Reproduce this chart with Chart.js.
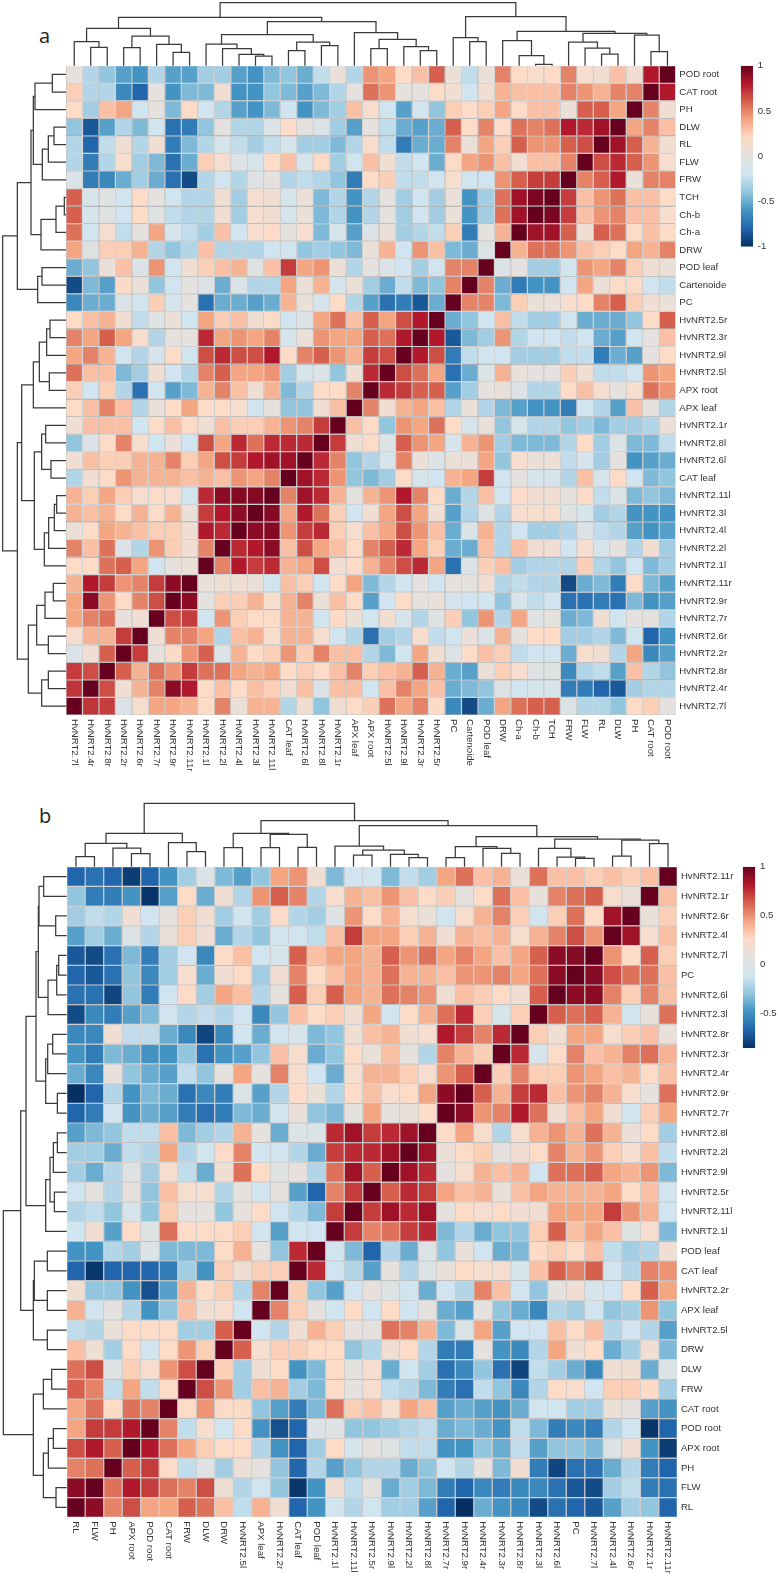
<!DOCTYPE html>
<html>
<head>
<meta charset="utf-8">
<script src="https://cdn.jsdelivr.net/npm/chart.js@4"></script>
<style>
html,body{margin:0;padding:0;background:#fff}
#page{position:relative;width:778px;height:1577px;overflow:hidden;background:#fff}
canvas{position:absolute;display:block}
.tag{position:absolute;font-family:"Open Sans",sans-serif;font-size:20px;line-height:24px;color:#222}
</style>
</head>
<body>
<div id="page">
<div class="tag" style="left:39px;top:24px">a</div>
<div class="tag" style="left:39px;top:804px">b</div>
</div>
<script>
// ---------- Palette (low to high) ----------
const palette = ['#053061','#2166ac','#4393c3','#92c5de','#d1e5f0','#e4e1de','#fddbc7','#f4a582','#d6604d','#b2182b','#67001f'];

// ---------- Panel a ----------
const aColumns = ['HvNRT2.7l','HvNRT2.4r','HvNRT2.8r','HvNRT2.2r','HvNRT2.6r','HvNRT2.7r','HvNRT2.9r','HvNRT2.11r','HvNRT2.1l','HvNRT2.2l','HvNRT2.4l','HvNRT2.3l','HvNRT2.11l','CAT leaf','HvNRT2.6l','HvNRT2.8l','HvNRT2.1r','APX leaf','APX root','HvNRT2.5l','HvNRT2.9l','HvNRT2.3r','HvNRT2.5r','PC','Cartenoide','POD leaf','DRW','Ch-a','Ch-b','TCH','FRW','FLW','RL','DLW','PH','CAT root','POD root'];
const aRowNames = ['POD root','CAT root','PH','DLW','RL','FLW','FRW','TCH','Ch-b','Ch-a','DRW','POD leaf','Cartenoide','PC','HvNRT2.5r','HvNRT2.3r','HvNRT2.9l','HvNRT2.5l','APX root','APX leaf','HvNRT2.1r','HvNRT2.8l','HvNRT2.6l','CAT leaf','HvNRT2.11l','HvNRT2.3l','HvNRT2.4l','HvNRT2.2l','HvNRT2.1l','HvNRT2.11r','HvNRT2.9r','HvNRT2.7r','HvNRT2.6r','HvNRT2.2r','HvNRT2.8r','HvNRT2.4r','HvNRT2.7l'];
// Correlations, top-left triangle down to the diagonal; the rest is its mirror.
const aValues = [
[0,-.3,-.4,-.55,-.6,-.3,-.55,-.55,-.35,-.35,-.55,-.6,-.45,-.4,-.5,-.25,.05,-.3,.45,.4,.2,.3,.6,.05,-.25,.05,.5,.2,.15,.2,.5,.15,.1,.3,.1,.8,1],
[.25,-.3,-.3,-.65,-.8,0,-.6,-.45,-.45,.1,-.6,-.6,-.4,-.45,-.55,-.45,-.3,0,.55,.45,0,0,.2,.1,-.2,.1,.35,.3,.3,.3,.5,.45,.35,.5,.5,1],
[.2,-.35,.3,.4,-.2,0,-.45,.2,-.2,-.3,-.55,-.6,-.45,-.2,-.6,-.45,-.35,.3,.15,-.2,-.55,-.2,-.4,.25,.2,.25,.4,.2,.3,.3,.05,.6,.6,.4,1],
[-.4,-.85,-.55,-.3,-.45,-.2,-.75,-.7,-.4,0,-.3,-.3,-.1,.2,0,-.1,-.35,-.55,0,-.25,-.5,-.55,-.5,.6,.2,.5,.2,.55,.5,.55,.8,.75,.85,1],
[-.3,-.8,-.25,.1,-.3,.1,-.7,-.45,-.3,-.15,-.25,-.35,-.25,-.15,-.35,-.35,-.45,-.3,.15,-.25,-.7,-.5,-.5,.5,.05,.4,.25,.6,.45,.45,.6,.65,1],
[-.3,-.7,-.3,.15,-.35,-.45,-.75,-.5,.25,.15,-.1,-.15,.2,.3,-.15,.2,-.35,-.2,.3,.1,-.25,-.2,-.5,.2,.4,.45,.3,.1,.3,.3,.5,1],
[-.1,-.7,-.65,-.5,-.35,-.5,-.75,-.9,-.3,-.2,-.3,-.05,0,-.3,-.25,-.3,-.4,-.7,.2,.25,-.25,-.25,-.2,.15,-.2,-.2,.45,.6,.7,.7,1],
[.6,-.15,-.05,-.2,.2,0,-.2,-.3,-.3,.1,-.35,.15,.1,-.15,.05,-.45,-.3,-.6,-.3,0,-.35,-.2,-.35,.05,-.6,-.35,.55,.85,.95,1],
[.6,-.15,-.05,-.2,.2,-.05,-.25,-.3,-.3,.1,-.35,.15,.1,-.15,.05,-.45,-.3,-.6,-.3,0,-.35,-.2,-.35,.05,-.6,-.35,.55,.85,1],
[.55,-.2,.15,-.25,0,.4,-.15,-.25,-.35,.3,-.2,.15,.2,0,.15,-.45,-.15,-.55,-.1,.05,-.35,-.3,-.25,.25,-.7,0,.35,1],
[.4,-.05,.25,.25,.35,-.3,-.4,-.3,.3,-.3,-.3,-.3,-.2,-.2,-.4,-.35,-.4,-.45,.05,.35,-.2,.45,.3,-.45,-.5,-.1,1],
[-.5,-.4,.05,.3,-.1,.45,-.2,.1,.25,.3,.35,-.05,.3,.7,.4,.45,.05,-.3,0,-.1,-.2,-.35,-.2,.5,.5,1],
[-.9,-.45,-.55,.2,.05,-.4,-.2,0,-.1,-.5,-.1,-.3,-.3,.4,.05,.35,-.15,.05,-.35,-.5,-.25,-.45,-.4,.5,1],
[-.65,-.5,-.5,-.1,-.2,.25,-.15,0,-.75,-.5,-.5,-.55,-.5,.35,.05,-.15,.2,-.3,-.55,-.75,-.7,-.85,-.5,1],
[.2,.3,.35,.1,-.25,-.05,.05,-.2,.4,.25,.3,.1,.2,-.2,-.1,.4,.55,.3,.6,.4,.65,.8,1],
[.5,.4,.6,.4,.15,-.3,0,0,.75,.4,.45,.4,.5,-.15,.05,.45,.4,.4,.6,.55,.8,1],
[.4,.5,.35,-.2,-.3,-.15,.2,-.2,.65,.75,.65,.65,.8,.2,.5,.6,.45,.35,.7,.65,1],
[.55,.3,.3,-.45,-.35,.1,-.2,-.3,.5,.6,.4,.4,.45,-.35,-.15,-.1,-.4,.1,.75,1],
[.25,-.2,.25,-.3,-.75,-.2,-.55,-.45,.35,.5,.3,.1,.35,-.45,-.3,.2,.2,.5,1],
[.2,.3,.5,.3,-.3,.05,.2,.4,.2,.2,.15,-.2,0,-.4,-.4,.1,.3,1],
[.1,.3,.3,.3,-.2,.2,.3,.2,.1,.3,.25,.25,.35,.45,.5,.7,1],
[-.4,-.1,.2,.5,.15,-.2,.05,-.2,.65,.4,.75,.55,.75,.75,.75,1],
[.1,.3,.25,.25,.35,.35,.5,.25,.4,.65,.7,.8,.85,.85,1],
[-.3,.1,.2,.45,.35,.35,.35,.3,.35,.3,.45,.4,.5,1],
[.35,.25,.4,.25,.15,.2,.15,-.2,.75,.9,.92,.92,1],
[.35,.3,.35,.2,.35,.2,.35,.05,.7,.8,.9,1],
[.05,.2,.4,.35,.3,.25,.25,.1,.8,.75,1],
[.5,.3,.55,-.1,-.3,.45,.25,.1,.5,1],
[.2,.2,.55,.6,.4,-.2,0,.05,1],
[.35,.8,.7,.45,.5,.7,.9,1],
[.4,.9,.45,.2,.5,.65,1],
[.4,.5,.55,.03,.1,1],
[.15,.35,.35,.7,1],
[-.1,.1,.6,1],
[.7,.65,1],
[.72,1],
[1]
];
// Cluster trees: [merge height, left branch, right branch]; plain numbers are leaf positions.
const aTopTree = [189,
  [145,
    [112,[72,0,[55,1,2]],[89,[54,3,4],[64,5,[40,6,7]]]],
    [132,
      [93,[65,8,[51,9,[34,10,[29,11,12]]]],[71,[45,13,14],[60,15,16]]],
      [99,17,[79,[51,18,19],[57,20,[45,21,22]]]]]],
  [147,
    [84,23,[72,24,25]],
    [103,[75,26,[30,27,[4,28,29]]],[97,[71,30,[53,31,[35,32,33]]],[92,34,[42,35,36]]]]]];
const aLeftTree = [190,
  [146,
    [105,
      [98,[93,[41,0,1],2],[71,[53,[36,3,4],5],6]],
      [75,[30,[5,7,8],9],10]],
    [85,[72,11,12],13]],
  [146,
    [133,
      [98,[80,[58,[48,14,15],16],[50,17,18]],19],
      [95,[73,[61,20,21],[45,22,23]],[65,[52,[35,[28,24,25],26],27],28]]],
    [113,
      [88,[63,[38,29,30],31],[53,32,33]],
      [73,[53,34,35],36]]]];
const aLegendTicks = [-1,-.5,0,.5,1];

// ---------- Panel b ----------
const bColumns = ['RL','FLW','PH','APX root','POD root','CAT root','FRW','DLW','DRW','HvNRT2.5l','APX leaf','HvNRT2.2r','CAT leaf','POD leaf','HvNRT2.1l','HvNRT2.11l','HvNRT2.5r','HvNRT2.9l','HvNRT2.2l','HvNRT2.8l','HvNRT2.7r','HvNRT2.9r','HvNRT2.4r','HvNRT2.3r','HvNRT2.8r','HvNRT2.3l','HvNRT2.6l','PC','HvNRT2.7l','HvNRT2.4l','HvNRT2.6r','HvNRT2.1r','HvNRT2.11r'];
const bRowNames = ['HvNRT2.11r','HvNRT2.1r','HvNRT2.6r','HvNRT2.4l','HvNRT2.7l','PC','HvNRT2.6l','HvNRT2.3l','HvNRT2.8r','HvNRT2.3r','HvNRT2.4r','HvNRT2.9r','HvNRT2.7r','HvNRT2.8l','HvNRT2.2l','HvNRT2.9l','HvNRT2.5r','HvNRT2.11l','HvNRT2.1l','POD leaf','CAT leaf','HvNRT2.2r','APX leaf','HvNRT2.5l','DRW','DLW','FRW','CAT root','POD root','APX root','PH','FLW','RL'];
const bValues = [
[-.8,-.75,-.8,-.95,-.8,-.6,-.35,-.1,-.45,-.55,-.4,.4,.45,.1,-.45,-.2,-.2,-.45,-.25,-.35,.4,.55,.3,.35,.05,.55,.3,.3,.25,.3,.25,.3,1],
[-.4,-.7,-.7,-.6,-.98,-.55,.2,-.5,.1,-.3,.45,.6,.5,-.3,.15,.35,.3,.45,.3,.2,.25,0,.2,.55,.3,.03,.5,.55,.6,.15,.05,1],
[-.35,-.25,-.3,.1,-.2,0,.25,.1,-.35,-.2,-.35,.2,-.3,-.35,-.05,.45,.2,.35,.15,.05,-.2,.15,.35,.5,.25,-.2,.25,.55,.2,.85,1],
[-.55,-.35,-.5,-.1,-.3,.05,.25,.1,-.5,-.3,-.4,-.2,-.2,-.25,.3,.7,.4,.4,.25,.35,.1,.35,.3,.35,.15,.35,.5,.65,.45,1],
[-.85,-.9,-.75,-.45,-.7,-.35,-.2,-.65,.2,.3,-.2,-.15,.6,.3,.4,.4,.35,.6,.45,.55,.4,.5,.4,.3,.4,.6,.9,.92,1],
[-.8,-.85,-.75,-.4,-.65,-.35,.15,-.5,.1,.2,-.35,.1,.5,.2,.3,.4,.35,.55,.35,.35,.3,.45,.45,.5,.4,.55,.9,1],
[-.75,-.75,-.92,-.4,-.7,-.2,.2,-.35,.4,.3,-.3,0,.6,.25,.6,.4,.35,.55,.5,.45,.1,.3,.25,.2,.1,.6,1],
[-.9,-.65,-.7,-.55,-.45,-.2,-.3,-.25,-.3,-.2,-.65,-.4,.3,.2,.25,.1,.4,-.2,.2,.35,.55,.75,.25,-.15,.25,1],
[-.65,-.65,.1,-.25,-.25,-.5,-.65,-.92,-.65,-.2,-.5,-.2,-.15,-.45,-.4,.1,.3,.35,.1,.15,.8,.7,.5,.75,1],
[-.6,-.7,-.45,-.5,-.6,-.6,-.4,-.75,-.6,-.55,-.4,.3,.15,-.5,-.4,.2,.05,.3,0,-.3,.5,.35,.25,1],
[-.5,-.65,.03,-.4,-.5,-.55,-.25,-.4,0,.4,0,.5,.15,-.2,-.5,.15,.35,.35,.25,.15,.45,.6,1],
[-1,-.8,-.3,-.6,-.45,-.5,-.75,-.65,-.7,-.1,-.55,-.3,.2,.05,-.3,.2,.3,.15,.2,.4,.9,1],
[-.8,-.7,-.2,-.6,-.5,-.55,-.7,-.75,-.7,-.45,-.5,-.2,.05,-.4,-.45,0,.4,0,.05,.2,1],
[-.55,-.45,-.4,-.25,-.25,.3,-.45,-.35,-.3,.35,0,-.5,-.1,-.1,.75,.85,.7,.75,.85,1],
[-.35,-.35,-.5,-.25,-.3,.4,-.3,-.2,.2,.5,-.2,-.2,-.3,-.5,.7,.75,.75,.85,1],
[-.35,-.5,-.3,-.05,-.35,.15,-.25,-.5,.1,.55,.2,-.05,.02,-.3,.55,.85,.6,1],
[-.2,0,-.3,0,-.4,.3,.15,.15,-.3,0,-.2,.02,-.55,-.8,.5,.7,1],
[-.3,-.25,-.4,-.15,-.4,.25,0,0,-.4,.02,.2,-.2,-.3,-.45,.7,1],
[-.2,.1,-.55,.2,-.05,.55,.2,.2,.2,.25,-.2,-.55,-.2,-.2,1],
[-.6,-.6,-.3,-.35,-.1,-.45,-.45,-.45,.2,.35,0,-.4,.75,1],
[-.8,-.97,-.8,-.8,-.8,-.7,-.35,-.6,.25,.1,.25,.25,1],
[.1,-.4,-.4,-.6,-.88,-.55,.35,.2,.25,-.3,.5,1],
[.35,-.2,0,-.3,-.6,-.4,.3,.1,.15,-.2,1],
[-.25,-.3,.05,.2,.2,.2,-.35,-.35,.6,1],
[.3,.08,-.35,.2,-.2,.2,.45,.25,1],
[.55,.65,-.05,.25,.15,.45,.65,1],
[.6,.5,-.25,.4,-.25,.2,1],
[.4,.55,.2,.55,.5,1],
[.4,.7,.7,.8,1],
[.65,.8,.6,1],
[.5,.55,1],
[.9,1],
[1]
];
const bTopTree = [190,
  [100,[70,[30,0,1],[56,2,[39,3,4]]],[72,5,[45,6,7]]],
  [138,
    [100,[57,8,9],[97,[57,10,11],[58,12,13]]],
    [123,
      [62,14,[50,[35,15,16],[37,17,[27,18,19]]]],
      [90,
        [60,[27,20,21],[55,22,[40,23,24]]],
        [83,[55,25,[29,26,[25,27,28]]],[80,[32,29,30],[69,31,32]]]]]]];
const bLeftTree = [190,
  [138,
    [122,
      [92,
        [85,[83,[69,0,1],[33,2,3]],[56,[30,[24,4,5],6],7]],
        [63,[57,[42,8,9],10],[28,11,12]]],
      [63,[50,[40,[28,13,14],15],[37,16,17]],18]],
    [100,[97,[58,19,20],[58,21,22]],[58,23,24]]],
  [100,
    [70,[45,25,26],27],
    [70,[55,[40,28,29],30],[32,31,32]]]];
const bLegendTicks = [-.5,0,.5,1];

// ---------- Helpers ----------
const FONT = {family:'"Liberation Sans",Arial,sans-serif', size:9.6};
const TEXT = '#333333';
const GRID = '#969696';
const page = document.getElementById('page');

function hex(h){return [1,3,5].map(i=>parseInt(h.slice(i,i+2),16));}
function colorFor(v){
  const t = Math.max(0,Math.min(1,(v+1)/2))*(palette.length-1);
  const i = Math.min(palette.length-2,Math.floor(t)), f = t-i;
  const a = hex(palette[i]), b = hex(palette[i+1]);
  return 'rgb('+a.map((c,k)=>Math.round(c+(b[k]-c)*f)).join(',')+')';
}
function addCanvas(left,top,width,height){
  const c = document.createElement('canvas');
  c.width = width; c.height = height;
  c.style.cssText = 'left:'+left+'px;top:'+top+'px;width:'+width+'px;height:'+height+'px';
  page.appendChild(c);
  return c;
}
function fullMatrix(tri){
  const n = tri.length;
  const m = Array.from({length:n},()=>new Array(n));
  tri.forEach((row,r)=>row.forEach((v,c)=>{ m[r][c]=v; m[n-1-c][n-1-r]=v; }));
  return m;
}
function heatmap(o){
  const n = o.rows.length, m = fullMatrix(o.values);
  const datasets = o.rows.map((name,r)=>({
    label:name,
    data:o.columns.map(()=>[r,r+1]),
    backgroundColor:m[r].map(colorFor),
    borderColor:GRID, borderWidth:.6, borderSkipped:false,
    barPercentage:1, categoryPercentage:1, grouped:false, inflateAmount:0
  }));
  new Chart(addCanvas(o.left,o.top,o.width,o.height),{
    type:'bar',
    data:{labels:o.columns,datasets},
    options:{
      responsive:false, animation:false, events:[],
      layout:{padding:o.padding},
      plugins:{legend:{display:false},tooltip:{enabled:false}},
      scales:{
        x:{
          grid:{display:false,drawTicks:false}, border:{display:false},
          ticks:{autoSkip:false,minRotation:-90,maxRotation:-90,padding:o.xPad,color:TEXT,font:FONT},
          afterFit(s){
            s._getXAxisLabelAlignment=()=>'left';
            s.height=o.axisHeight;
            s.paddingLeft=s.paddingRight=s.paddingTop=s.paddingBottom=0;
          }
        },
        y:{
          position:'right', reverse:true, min:0, max:n,
          grid:{display:false,drawTicks:false}, border:{display:false},
          afterBuildTicks(s){ s.ticks=o.rows.map((_,i)=>({value:i+.5})); },
          ticks:{autoSkip:false,padding:o.yPad,color:TEXT,font:FONT,callback:v=>o.rows[v-.5]},
          afterFit(s){
            s.width=o.axisWidth;
            s.paddingLeft=s.paddingRight=s.paddingTop=s.paddingBottom=0;
          }
        }
      }
    }
  });
}
function links(tree){
  const out=[];
  (function walk(node){
    if(typeof node==='number') return {p:node+.5,h:0};
    const l=walk(node[1]), r=walk(node[2]), h=node[0];
    out.push([[l.p,l.h],[l.p,h],[r.p,h],[r.p,r.h]]);
    return {p:(l.p+r.p)/2,h};
  })(tree);
  return out;
}
function dendrogram(o){
  const horizontal = o.side==='top';
  const datasets = links(o.tree).map(seg=>({
    data:seg.map(([p,h])=>horizontal?{x:p,y:h}:{x:h,y:p}),
    showLine:true, pointRadius:0, borderColor:'#3a3a3a', borderWidth:1.25,
    borderJoinStyle:'miter', borderCapStyle:'butt', tension:0, clip:false
  }));
  const pos={min:0,max:o.leaves,display:false,reverse:!horizontal};
  const hgt={min:0,max:o.range,display:false,reverse:!horizontal};
  new Chart(addCanvas(o.left,o.top,o.width,o.height),{
    type:'scatter',
    data:{datasets},
    options:{
      responsive:false, animation:false, events:[],
      layout:{padding:o.padding},
      plugins:{legend:{display:false},tooltip:{enabled:false}},
      scales:horizontal?{x:pos,y:hgt}:{x:hgt,y:pos}
    }
  });
}
function legendBar(o){
  new Chart(addCanvas(o.left,o.top,o.width,o.height),{
    type:'bar',
    data:{labels:[''],datasets:[{
      data:[[o.min,o.max]],
      barPercentage:1, categoryPercentage:1, inflateAmount:0,
      backgroundColor(ctx){
        const a=ctx.chart.chartArea;
        if(!a) return palette[5];
        const g=ctx.chart.ctx.createLinearGradient(0,a.bottom,0,a.top);
        palette.forEach((c,i)=>g.addColorStop(i/(palette.length-1),c));
        return g;
      }
    }]},
    options:{
      responsive:false, animation:false, events:[],
      layout:{padding:o.padding},
      plugins:{legend:{display:false},tooltip:{enabled:false}},
      scales:{
        x:{display:false},
        y:{
          position:'right', min:o.min, max:o.max,
          grid:{display:false,drawTicks:false}, border:{display:false},
          afterBuildTicks(s){ s.ticks=o.ticks.map(value=>({value})); },
          ticks:{autoSkip:false,padding:o.pad,color:TEXT,font:FONT,callback:v=>String(v)},
          afterFit(s){
            s.width=o.axisWidth;
            s.paddingLeft=s.paddingRight=s.paddingTop=s.paddingBottom=0;
          }
        }
      }
    }
  });
}

// ---------- Panel a ----------
heatmap({columns:aColumns,rows:aRowNames,values:aValues,left:66,top:65,width:674,height:720,
  padding:{top:.7,left:0,right:0,bottom:0},axisWidth:64.3,axisHeight:70,xPad:4,yPad:3.6});
dendrogram({tree:aTopTree,side:'top',leaves:37,range:197,left:66,top:0,width:610,height:66,
  padding:{left:0,right:.3,top:0,bottom:.3}});
dendrogram({tree:aLeftTree,side:'left',leaves:37,range:198,left:0,top:65,width:66,height:651,
  padding:{left:0,right:0,top:.7,bottom:1}});
legendBar({min:-1,max:1,ticks:aLegendTicks,left:735,top:55,width:43,height:205,
  padding:{left:5.7,right:0,top:10.7,bottom:13.3},axisWidth:25,pad:4.7});

// ---------- Panel b ----------
heatmap({columns:bColumns,rows:bRowNames,values:bValues,left:66,top:866,width:676,height:711,
  padding:{top:.7,left:.7,right:0,bottom:0},axisWidth:64.7,axisHeight:59.7,xPad:4,yPad:3.6});
dendrogram({tree:bTopTree,side:'top',leaves:33,range:230,left:66,top:790,width:612,height:77,
  padding:{left:.7,right:.7,top:0,bottom:.3}});
dendrogram({tree:bLeftTree,side:'left',leaves:33,range:200,left:0,top:866,width:67,height:652,
  padding:{left:0,right:.3,top:.7,bottom:.7}});
legendBar({min:-.85,max:1,ticks:bLegendTicks,left:737,top:856,width:41,height:205,
  padding:{left:5.7,right:0,top:10.7,bottom:13},axisWidth:22.7,pad:4.7});
</script>
</body>
</html>
